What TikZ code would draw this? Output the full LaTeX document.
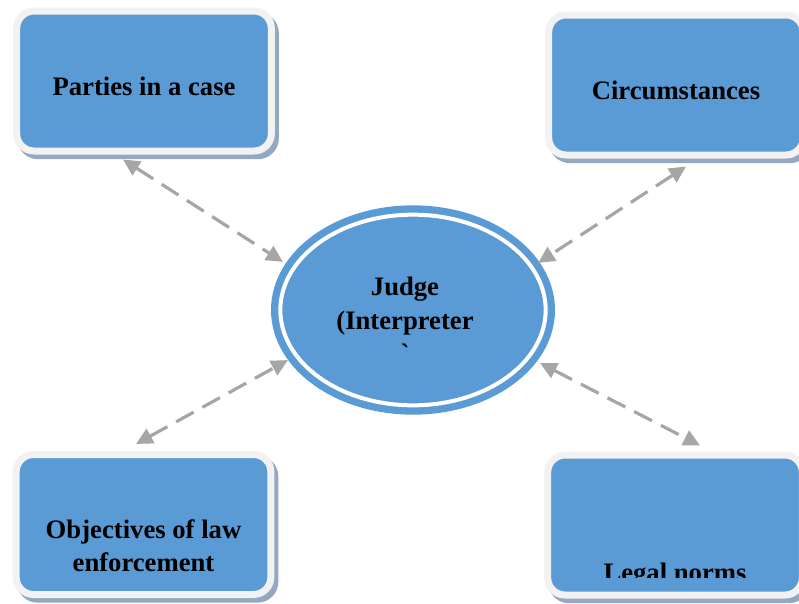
\documentclass[tikz,border=0pt]{standalone}
\usepackage{fontspec}
\usepackage{tikz}
\usetikzlibrary{calc}
\usetikzlibrary{arrows.meta}
\usetikzlibrary{shapes.geometric}
\newfontfamily\labelfont{Liberation Serif}
\definecolor{panelblue}{HTML}{5B9BD5}
\definecolor{panelrim}{HTML}{F2F2F2}
\definecolor{panelshade}{HTML}{94A8C3}
\definecolor{linkgray}{HTML}{A6A6A6}

\begin{document}
\begin{tikzpicture}[x=0.75pt,y=-0.75pt,
      panel/.style={rectangle,rounded corners=13pt,fill=panelblue,draw=panelrim,
        line width=5.25pt,minimum width=191pt,minimum height=105pt,
        preaction={draw=panelshade,fill=panelshade,line width=5.25pt,
          transform canvas={xshift=3pt,yshift=-3.5pt}}},
      words/.style={font=\labelfont\bfseries\fontsize{20pt}{25pt}\selectfont,
        align=center,text=black},
      link/.style={draw=linkgray,line width=2.4pt,dash pattern=on 15pt off 7.5pt,
        {Triangle[length=12.5pt,width=12pt]}-{Triangle[length=12.5pt,width=12pt]}}]

      \useasboundingbox (0,0) rectangle (799,603);

      % the judge in the middle
      \node[ellipse,fill=panelblue,draw=white,line width=3pt,
        minimum width=199pt,minimum height=143pt,inner sep=0pt,
        preaction={draw=panelblue,line width=14pt},
        label={[words,xshift=-6pt,yshift=-7.5pt]center:Judge\\(Interpreter\\\symbol{96}}]
        (judge) at (413,310) {};

      % the four boxes
      \node[panel,label={[words,yshift=-3.75pt]center:Parties in a case}] (parties) at (144,81) {};
      \node[panel,label={[words,yshift=-3.75pt]center:Circumstances}] (circum) at (676,85) {};
      \node[panel,label={[words,yshift=-16pt]center:Objectives of law\\enforcement}] (objectives) at (143.5,524.5) {};
      \node[panel] (norms) at (675,525) {};
      \begin{scope}
        \clip (552,450) rectangle (799,577.5);
        \node[words,anchor=base] (normstext) at (675,581) {Legal norms};
      \end{scope}

      % dashed links
      \draw[link] ($(parties.south)+(-21,5)$) -- ($(judge.160)+(-9.8,-4.3)$);
      \draw[link] ($(circum.south)+(10,8)$) -- ($(judge.20)+(4.8,-3.3)$);
      \draw[link] ($(objectives.north)+(-7.5,-7)$) -- ($(judge.200)+(-4.8,6.3)$);
      \draw[link] ($(judge.-20)+(6.8,9.3)$) -- ($(norms.north)+(25,-6)$);
\end{tikzpicture}
\end{document}
